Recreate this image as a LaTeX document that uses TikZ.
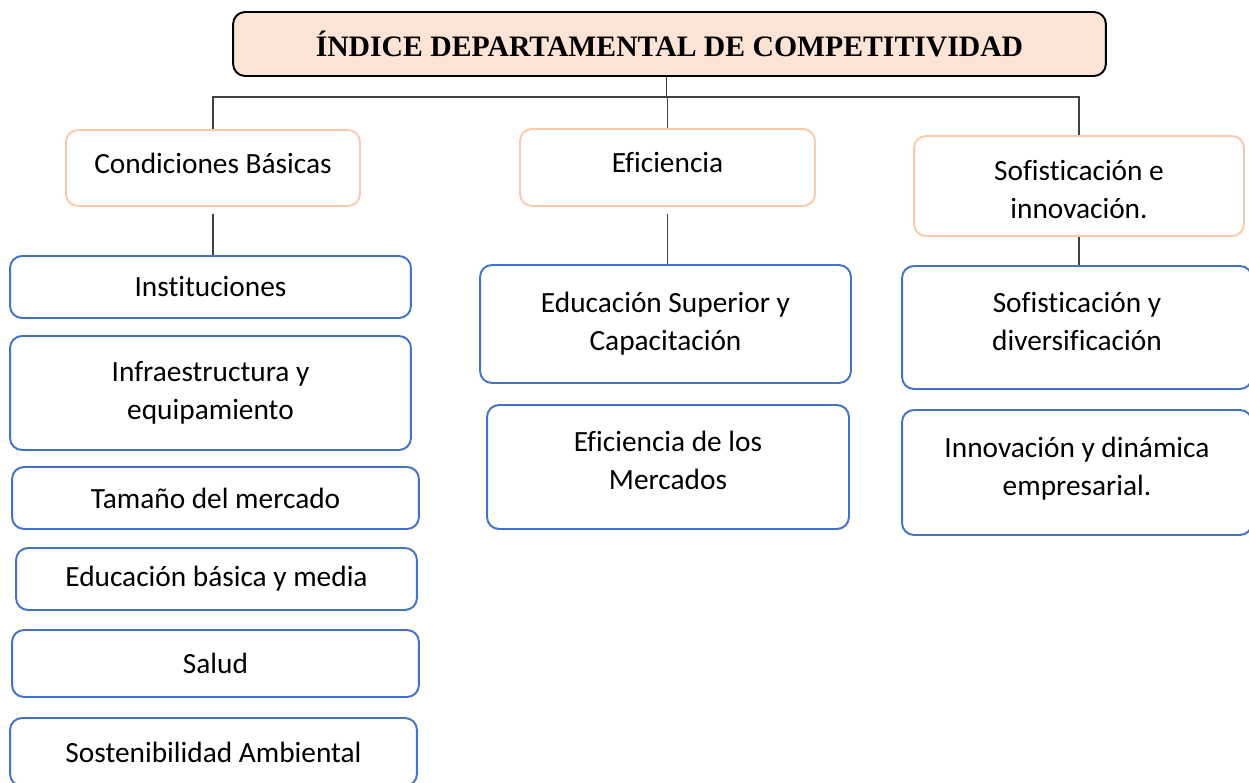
\documentclass[tikz,border=0pt]{standalone}
\usepackage{fontspec}
\setmainfont{Carlito}[Ligatures=NoCommon]
\newfontfamily\titlefont{Liberation Serif}
\usepackage{xcolor}
\usetikzlibrary{positioning}
\definecolor{peachfill}{HTML}{FBE4D5}
\definecolor{peachline}{HTML}{F8CBAD}
\definecolor{blueline}{HTML}{4472C4}
\definecolor{linkc}{HTML}{404040}

\begin{document}
\begin{tikzpicture}[x=0.02cm,y=-0.02cm,font=\fontsize{16.7}{21.6}\selectfont,
  box/.style={rounded corners=0.24cm,line width=1.1pt,inner sep=0pt,align=center},
  pillar/.style={box,draw=peachline},
  factor/.style={box,draw=blueline},
  link/.style={draw=linkc,line width=0.7pt},
  every label/.style={align=center,inner sep=0pt},
]
\clip (0,0) rectangle (1249,783);
\fill[white] (0,0) rectangle (1249,783);

\node[box,draw=black,fill=peachfill,minimum width=17.46cm,minimum height=1.28cm,
      font=\titlefont\bfseries\fontsize{16.9}{20}\selectfont] (title) at (669.5,44)
  {ÍNDICE DEPARTAMENTAL DE COMPETITIVIDAD};

\node[pillar,minimum width=5.88cm,minimum height=1.52cm,
      label={[name=cbt,yshift=0.1cm]center:Condiciones Básicas}] (cb) at (213,168) {};
\node[pillar,minimum width=5.90cm,minimum height=1.54cm,
      label={[name=eft,yshift=0.1cm]center:Eficiencia}] (ef) at (667.5,167.5) {};
\node[pillar,minimum width=6.60cm,minimum height=2.00cm,
      label={[name=sot,yshift=-0.08cm]center:Sofisticación e\\innovación.}] (so) at (1079,186) {};

\node[factor,minimum width=8.02cm,minimum height=1.24cm] (inst)  at (210.5,287) {Instituciones};
\node[factor,minimum width=8.02cm,minimum height=2.28cm] (infra) at (210.5,393) {Infraestructura y\\equipamiento};
\node[factor,minimum width=8.14cm,minimum height=1.24cm] (tam)   at (215.5,498) {Tamaño del mercado};
\node[factor,minimum width=8.02cm,minimum height=1.24cm] (edu)   at (216.5,579) {Educación básica y media};
\node[factor,minimum width=8.14cm,minimum height=1.34cm] (sal)   at (215.5,663.5) {Salud};
\node[factor,minimum width=8.14cm,minimum height=1.36cm] (sost)  at (213.5,752) {Sostenibilidad Ambiental};

\node[factor,minimum width=7.42cm,minimum height=2.36cm] (esup) at (665.5,324) {Educación Superior y\\Capacitación};
\node[factor,minimum width=7.24cm,minimum height=2.48cm,
      label={[name=emert,yshift=0.14cm]center:Eficiencia de los\\Mercados}] (emer) at (668,467) {};

\node[factor,minimum width=7.00cm,minimum height=2.46cm,
      label={[name=sdivt,yshift=0.12cm]center:Sofisticación y\\diversificación}] (sdiv) at (1077,327.5) {};
\node[factor,minimum width=7.00cm,minimum height=2.50cm,
      label={[name=innovt,yshift=0.08cm]center:Innovación y dinámica\\empresarial.}] (innov) at (1077,472.5) {};

\coordinate (bus) at (0,97);
\draw[link] ([xshift=-0.06cm]title.south) -- ([xshift=-0.06cm]title.south |- bus);
\draw[link] (cb.north) -- (cb.north |- bus) -- (so.north |- bus) -- (so.north);
\draw[link] (ef.north) -- (ef.north |- bus);

\draw[link,shorten <=4pt] (cb.south) -- (cb.south |- inst.north);
\draw[link,shorten <=4pt] (ef.south) -- (ef.south |- esup.north);
\draw[link] (so.south) -- (so.south |- sdiv.north);
\end{tikzpicture}
\end{document}
